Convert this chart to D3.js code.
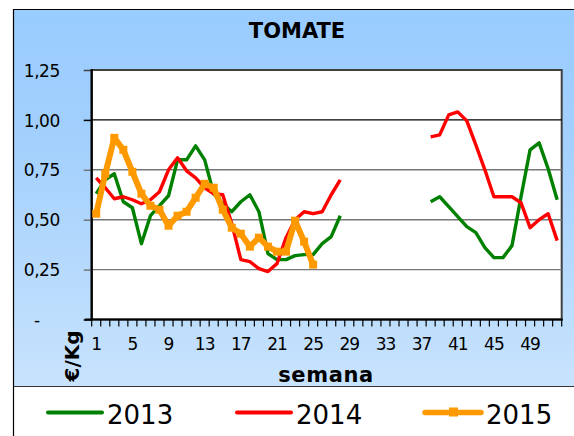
<!DOCTYPE html>
<html>
<head>
<meta charset="utf-8">
<script src="https://cdn.jsdelivr.net/npm/d3@7"></script>
<style>
  body { margin: 0; background: #fff; }
  svg { display: block; }
</style>
</head>
<body>
<div id="chart"></div>
<script>
// weekly tomato prices (€/Kg), null = no quote
const weeks = d3.range(1, 53);
const gaps = [null, null, null, null, null, null, null, null, null]; // weeks 29-37

const prices2013 = [0.63, 0.70, 0.73, 0.59, 0.56, 0.38, 0.52, 0.57, 0.62, 0.80,
  0.80, 0.87, 0.80, 0.63, 0.58, 0.54, 0.59, 0.625, 0.54, 0.33,
  0.30, 0.30, 0.32, 0.325, 0.325, 0.38, 0.415, 0.52]
  .concat(gaps, [0.59, 0.615, 0.565, 0.515, 0.465, 0.435, 0.36, 0.31, 0.31, 0.37,
  0.615, 0.85, 0.885, 0.755, 0.60]);

const prices2014 = [0.71, 0.66, 0.605, 0.615, 0.60, 0.58, 0.60, 0.64, 0.75, 0.81,
  0.745, 0.71, 0.66, 0.63, 0.625, 0.48, 0.30, 0.29, 0.255, 0.24,
  0.28, 0.41, 0.50, 0.54, 0.53, 0.54, 0.625, 0.70]
  .concat(gaps, [0.915, 0.925, 1.025, 1.04, 0.995, 0.875, 0.75, 0.615, 0.615, 0.615,
  0.585, 0.46, 0.50, 0.53, 0.395]);

const prices2015 = [0.53, 0.73, 0.91, 0.85, 0.74, 0.63, 0.57, 0.55, 0.47, 0.52,
  0.54, 0.61, 0.68, 0.66, 0.55, 0.46, 0.43, 0.365, 0.41, 0.365,
  0.34, 0.34, 0.495, 0.39, 0.275];

const yTicks = [0, 0.25, 0.5, 0.75, 1.0, 1.25];
const yTickLabels = ["-", "0,25", "0,50", "0,75", "1,00", "1,25"];
const xLabelWeeks = [1, 5, 9, 13, 17, 21, 25, 29, 33, 37, 41, 45, 49];

const series = [
  {name: "2013", values: prices2013, color: "#008000"},
  {name: "2014", values: prices2014, color: "#ff0000"},
  {name: "2015", values: prices2015, color: "#ff9900"}
];

const W = 574, H = 436;
const plot = {left: 91.7, right: 561.7, top: 70, bottom: 319.5};

const svg = d3.select("#chart").append("svg")
  .attr("width", W).attr("height", H);

const grad = svg.append("defs").append("linearGradient")
  .attr("id", "bg").attr("x1", 0).attr("y1", 0).attr("x2", 0).attr("y2", 1);
grad.append("stop").attr("offset", "0%").attr("stop-color", "#99ccff");
grad.append("stop").attr("offset", "35%").attr("stop-color", "#a3d0fd");
grad.append("stop").attr("offset", "100%").attr("stop-color", "#c8e3fd");

// outer frame + blue panel
svg.append("rect").attr("x", 14).attr("y", 10).attr("width", W - 14).attr("height", 376)
  .attr("fill", "url(#bg)");
svg.append("line").attr("x1", 13.5).attr("x2", 13.5).attr("y1", 9).attr("y2", H)
  .attr("stroke", "#000").attr("stroke-width", 1.2);
svg.append("line").attr("x1", 13).attr("x2", W).attr("y1", 9.5).attr("y2", 9.5)
  .attr("stroke", "#000").attr("stroke-width", 1.2);
svg.append("line").attr("x1", 14).attr("x2", W).attr("y1", 386.5).attr("y2", 386.5)
  .attr("stroke", "#333").attr("stroke-width", 1.2);

svg.append("text")
  .attr("x", 297).attr("y", 37.5)
  .attr("text-anchor", "middle")
  .style("font-family", "'DejaVu Sans', sans-serif")
  .style("font-size", "21px").style("font-weight", "bold")
  .text("TOMATE");

const x = d3.scaleBand().domain(weeks).range([plot.left, plot.right]);
const y = d3.scaleLinear().domain([0, 1.25]).range([plot.bottom, plot.top]);
const cx = w => x(w) + x.bandwidth() / 2;

// plot background
svg.append("rect")
  .attr("x", plot.left).attr("y", plot.top)
  .attr("width", plot.right - plot.left).attr("height", plot.bottom - plot.top)
  .attr("fill", "#fff").attr("stroke", "#404040").attr("stroke-width", 2);

// gridlines + y ticks
const gridColor = v => (v === 1.0 || v === 0) ? "#000" : (v === 1.25 ? "#404040" : "#777");
svg.append("g").selectAll("line")
  .data(yTicks.filter(v => v > 0 && v < 1.25))
  .join("line")
  .attr("x1", plot.left).attr("x2", plot.right)
  .attr("y1", d => y(d)).attr("y2", d => y(d))
  .attr("stroke", gridColor).attr("stroke-width", 1.4);

const yAxis = svg.append("g")
  .attr("transform", `translate(${plot.left},0)`)
  .call(d3.axisLeft(y).tickValues(yTicks).tickSize(8).tickPadding(24)
    .tickFormat((d, i) => yTickLabels[i]));
yAxis.select(".domain").remove();
yAxis.selectAll(".tick line").attr("stroke", d => gridColor(d)).attr("stroke-width", 1.5);
yAxis.selectAll(".tick text")
  .style("font-family", "'DejaVu Sans', sans-serif")
  .style("font-size", "17px").style("letter-spacing", "-0.5px")
  .attr("fill", "#000").attr("dy", "0.36em")
  .filter(d => d === 0).attr("x", -55).attr("text-anchor", "middle");

// x axis: tick marks between categories, labels every 4 weeks
const xAxis = svg.append("g")
  .attr("transform", `translate(0,${plot.bottom})`)
  .call(d3.axisBottom(x).tickValues(xLabelWeeks).tickSize(0).tickPadding(24));
xAxis.select(".domain").remove();
xAxis.selectAll(".tick text")
  .style("font-family", "'DejaVu Sans', sans-serif")
  .style("font-size", "17px").style("letter-spacing", "-1px")
  .attr("fill", "#000").attr("dy", "0.36em");
svg.append("g").selectAll("line")
  .data(weeks.map(w => x(w)).concat([plot.right]))
  .join("line")
  .attr("x1", d => d).attr("x2", d => d)
  .attr("y1", plot.bottom).attr("y2", plot.bottom + 7)
  .attr("stroke", "#000").attr("stroke-width", 1.2);

// axis lines
svg.append("line").attr("x1", plot.left).attr("x2", plot.left)
  .attr("y1", plot.top - 1).attr("y2", plot.bottom + 1)
  .attr("stroke", "#000").attr("stroke-width", 2.2);
svg.append("line").attr("x1", plot.left - 7).attr("x2", plot.right + 1)
  .attr("y1", plot.bottom).attr("y2", plot.bottom)
  .attr("stroke", "#000").attr("stroke-width", 2.2);

// axis titles
svg.append("text")
  .attr("transform", "translate(79,356) rotate(-90)")
  .attr("text-anchor", "middle")
  .style("font-family", "'DejaVu Sans', sans-serif")
  .style("font-size", "20px").style("font-weight", "bold")
  .text("€/Kg");
svg.append("text")
  .attr("x", 326).attr("y", 382)
  .attr("text-anchor", "middle")
  .style("font-family", "'DejaVu Sans', sans-serif")
  .style("font-size", "21px").style("font-weight", "bold")
  .style("letter-spacing", "0.6px")
  .text("semana");

// lines
const line = d3.line()
  .defined(d => d.v != null)
  .x(d => cx(d.w)).y(d => y(d.v));

series.forEach(s => {
  const pts = s.values.map((v, i) => ({w: weeks[i], v: v}));
  const is2015 = s.name === "2015";
  svg.append("path")
    .datum(pts)
    .attr("fill", "none")
    .attr("stroke", s.color)
    .attr("stroke-width", is2015 ? 6 : 3.4)
    .attr("stroke-linejoin", "round")
    .attr("d", line);
  if (is2015) {
    svg.append("g").selectAll("rect")
      .data(pts.filter(d => d.v != null))
      .join("rect")
      .attr("x", d => cx(d.w) - 4).attr("y", d => y(d.v) - 4)
      .attr("width", 8).attr("height", 8)
      .attr("fill", s.color);
  }
});

// legend
const legendX = [48, 237, 425];
const leg = svg.append("g").selectAll("g")
  .data(series).join("g")
  .attr("transform", (d, i) => `translate(${legendX[i]},412.5)`);
leg.append("line")
  .attr("x1", 0).attr("x2", d => d.name === "2015" ? 56 : 54)
  .attr("stroke", d => d.color)
  .attr("stroke-width", d => d.name === "2015" ? 5.5 : 4)
  .attr("stroke-linecap", "round");
leg.filter(d => d.name === "2015").append("rect")
  .attr("x", 24).attr("y", -5).attr("width", 9).attr("height", 9)
  .attr("fill", d => d.color);
leg.append("text")
  .attr("x", d => d.name === "2015" ? 61 : 59).attr("y", 11.5)
  .style("font-family", "'DejaVu Sans', sans-serif")
  .style("font-size", "26px")
  .text(d => d.name);
</script>
</body>
</html>
